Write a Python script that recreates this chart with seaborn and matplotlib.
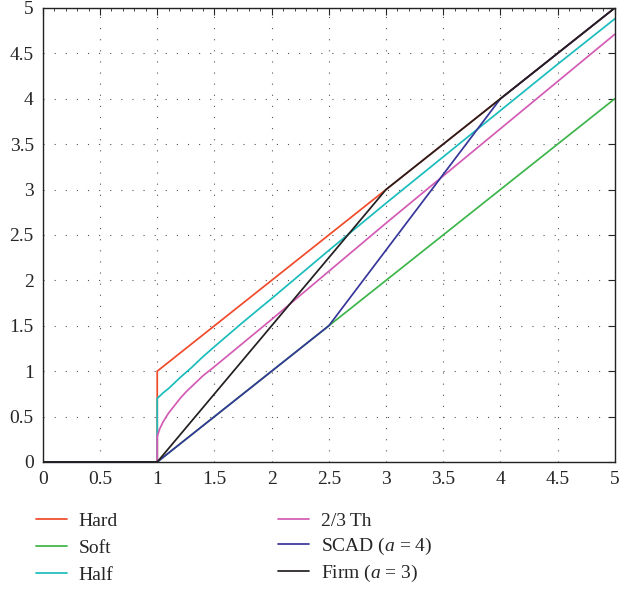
import numpy as np
import pandas as pd
import matplotlib
matplotlib.use("Agg")
import matplotlib.pyplot as plt
from matplotlib.ticker import MultipleLocator, FuncFormatter
import seaborn as sns

# points
hard_x = [0, 1, 1, 5]
hard_y = [0, 0, 1, 5]
soft_x = [0, 1, 5]
soft_y = [0, 0, 4]
half_x = [0, 1, 1, 1.05, 1.1, 1.15, 1.2, 1.3, 1.4, 1.5, 1.75, 2, 2.5, 3, 3.5, 4, 4.5, 5]
half_y = [0, 0, 0.70, 0.76, 0.81, 0.87, 0.93, 1.04, 1.16, 1.27, 1.54, 1.80, 2.33, 2.85, 3.36, 3.87, 4.38, 4.88]
th23_x = [0, 1, 1, 1.01, 1.02, 1.035, 1.05, 1.075, 1.1, 1.15, 1.2, 1.25, 1.3, 1.4, 1.5, 1.75, 2, 2.5, 3, 3.5, 4, 4.5, 5]
th23_y = [0, 0, 0.28, 0.32, 0.36, 0.40, 0.44, 0.49, 0.54, 0.62, 0.70, 0.77, 0.83, 0.95, 1.05, 1.31, 1.57, 2.10, 2.63, 3.15, 3.67, 4.19, 4.71]
scad_x = [0, 1, 2.5, 4, 5]
scad_y = [0, 0, 1.5, 4, 5]
firm_x = [0, 1, 3, 5]
firm_y = [0, 0, 3, 5]

names = ["Hard", "Soft", "Half", "2/3\u2009Th", "SCAD ($a$ = 4)", "Firm ($a$ = 3)"]
colors = ["#f04a2a", "#3db54a", "#1bbcbc", "#d45bb5", "#36369a", "#231f20"]
series = [(hard_x, hard_y), (soft_x, soft_y), (half_x, half_y),
          (th23_x, th23_y), (scad_x, scad_y), (firm_x, firm_y)]

sns.set_style("white")
plt.rcParams["font.family"] = ["Liberation Serif", "DejaVu Serif"]
plt.rcParams["mathtext.fontset"] = "custom"
plt.rcParams["mathtext.it"] = "Liberation Serif:italic"
plt.rcParams["mathtext.rm"] = "Liberation Serif"

fig = plt.figure(figsize=(6.21, 5.92), dpi=100)
ax = fig.add_axes([0.069, 0.2196, 0.921, 0.767])

for (xs, ys), name, c in zip(series, names, colors):
    df = pd.DataFrame({"x": xs, "y": ys})
    sns.lineplot(data=df, x="x", y="y", ax=ax, color=c, lw=1.25,
                 estimator=None, sort=False, label=name)

ax.set_xlim(0, 5)
ax.set_ylim(0, 5)
fmt = FuncFormatter(lambda v, p: f"{v:g}")
ax.xaxis.set_major_locator(MultipleLocator(0.5))
ax.yaxis.set_major_locator(MultipleLocator(0.5))
ax.xaxis.set_minor_locator(MultipleLocator(0.1))
ax.xaxis.set_major_formatter(fmt)
ax.yaxis.set_major_formatter(fmt)
ax.tick_params(which="both", direction="in", top=True, right=True, labelsize=14)
ax.tick_params(axis="x", which="both", pad=6.5)
ax.tick_params(axis="y", which="both", pad=6.5)
ax.tick_params(which="major", length=5)
ax.tick_params(which="minor", length=2.5)
ax.grid(True, linestyle=(0, (1, 9)), color="#555555", lw=0.8)
for s in ax.spines.values():
    s.set_color("#222222")
    s.set_linewidth(1.0)
ax.set_xlabel("")
ax.set_ylabel("")

handles, labels = ax.get_legend_handles_labels()
ax.get_legend().remove()
kw = dict(loc="upper left", frameon=False, fontsize=14, handlelength=1.6,
          handletextpad=0.6, borderaxespad=0)
leg1 = ax.legend(handles[:3], labels[:3], bbox_to_anchor=(-0.026, -0.093),
                 labelspacing=0.5, **kw)
ax.add_artist(leg1)
ax.legend(handles[3:], labels[3:], bbox_to_anchor=(0.398, -0.093),
          labelspacing=0.3, **kw)

fig.savefig("out.png", dpi=100)
